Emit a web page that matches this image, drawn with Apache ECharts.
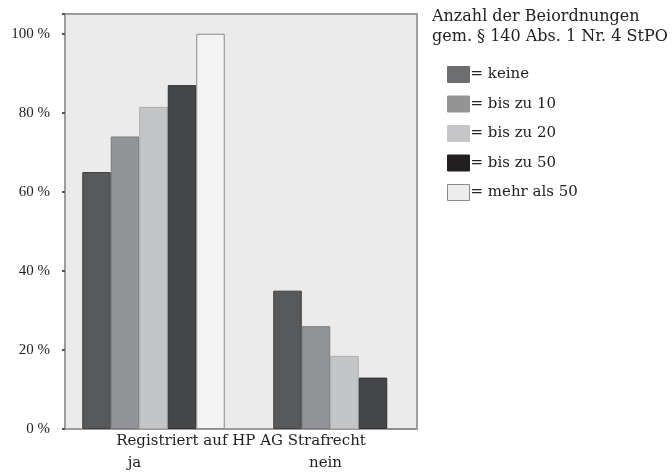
<!DOCTYPE html>
<html><head><meta charset="utf-8">
<script src="https://cdn.jsdelivr.net/npm/echarts@6/dist/echarts.min.js"></script>
<style>html,body{margin:0;padding:0;background:#fff}#c{width:672px;height:472px}</style>
</head><body><div id="c"></div>
<script>
const categories = ['ja', 'nein'];
const seriesNames = ['keine', 'bis zu 10', 'bis zu 20', 'bis zu 50', 'mehr als 50'];
const keine = [65, 35];
const bisZu10 = [74, 26];
const bisZu20 = [81.5, 18.5];
const bisZu50 = [87, 13];
const mehrAls50 = [100, 0];
const yTicks = [0, 20, 40, 60, 80, 100];
const values = [keine, bisZu10, bisZu20, bisZu50, mehrAls50];

const barColors = ['#58595b', '#939497', '#c4c5c7', '#454648', '#f3f3f3'];
const barBorders = ['#3c3d3f', '#77787b', '#a9aaac', '#2e2f31', '#8a8a8a'];
const legendColors = ['#6d6e70', '#949494', '#c6c6c8', '#231f20', '#ededed'];
const FONT = 'DejaVu Serif';

const chart = echarts.init(document.getElementById('c'));
chart.setOption({
  animation: false,
  backgroundColor: '#ffffff',
  title: {
    text: 'Anzahl der Beiordnungen\ngem. § 140 Abs. 1 Nr. 4 StPO',
    left: 432, top: 7, padding: 0,
    textStyle: {fontFamily: FONT, fontSize: 16, fontWeight: 'normal', color: '#222', lineHeight: 20}
  },
  legend: {
    orient: 'vertical', left: 442, top: 61,
    itemWidth: 22, itemHeight: 16, itemGap: 12.5,
    icon: 'rect',
    data: seriesNames.map((n, i) => ({
      name: n,
      itemStyle: {color: legendColors[i], borderColor: i === 4 ? '#8a8a8a' : legendColors[i], borderWidth: 1}
    })),
    formatter: n => '= ' + n,
    textStyle: {fontFamily: FONT, fontSize: 15, color: '#222', padding: [0, 0, 0, -4]}
  },
  grid: [
    {left: 58, width: 382, top: 14, bottom: 43, show: false, containLabel: false},
    {left: 65, width: 352, top: 14, bottom: 43, show: true, backgroundColor: '#ebebeb', borderColor: '#9d9d9d', borderWidth: 2, z: 0}
  ],
  xAxis: [
    {
      type: 'category', gridIndex: 0, data: categories,
      axisLine: {show: false},
      axisTick: {show: false},
      axisLabel: {fontFamily: FONT, fontSize: 15, color: '#222', margin: 27, padding: [0, 38, 0, 0]}
    },
    {
      type: 'value', gridIndex: 1, min: 0, max: 1,
      axisLine: {show: false}, axisTick: {show: false}, axisLabel: {show: false}, splitLine: {show: false},
      name: 'Registriert auf HP AG Strafrecht', nameLocation: 'middle', nameGap: 5,
      nameTextStyle: {fontFamily: FONT, fontSize: 15, color: '#222', verticalAlign: 'top'}
    }
  ],
  yAxis: [
    {
      type: 'value', gridIndex: 0, min: 0, max: 105, interval: 20, show: false,
      splitLine: {show: false}
    },
    {
      type: 'value', gridIndex: 1, min: 0, max: 105, interval: 20,
      axisLine: {show: false},
      axisTick: {show: true, length: 3, inside: false, lineStyle: {color: '#555', width: 2}},
      splitLine: {show: false},
      axisLabel: {
        fontFamily: 'Liberation Serif', fontSize: 15, color: '#222', margin: 15,
        formatter: v => (yTicks.indexOf(v) >= 0 ? v + ' %' : '')
      }
    }
  ],
  series: seriesNames.map((n, i) => ({
    name: n, type: 'bar', xAxisIndex: 0, yAxisIndex: 0,
    data: values[i],
    barGap: '0%', barCategoryGap: '25.4%',
    itemStyle: {color: barColors[i], borderColor: barBorders[i], borderWidth: 1},
    z: 3
  }))
});
</script></body></html>
